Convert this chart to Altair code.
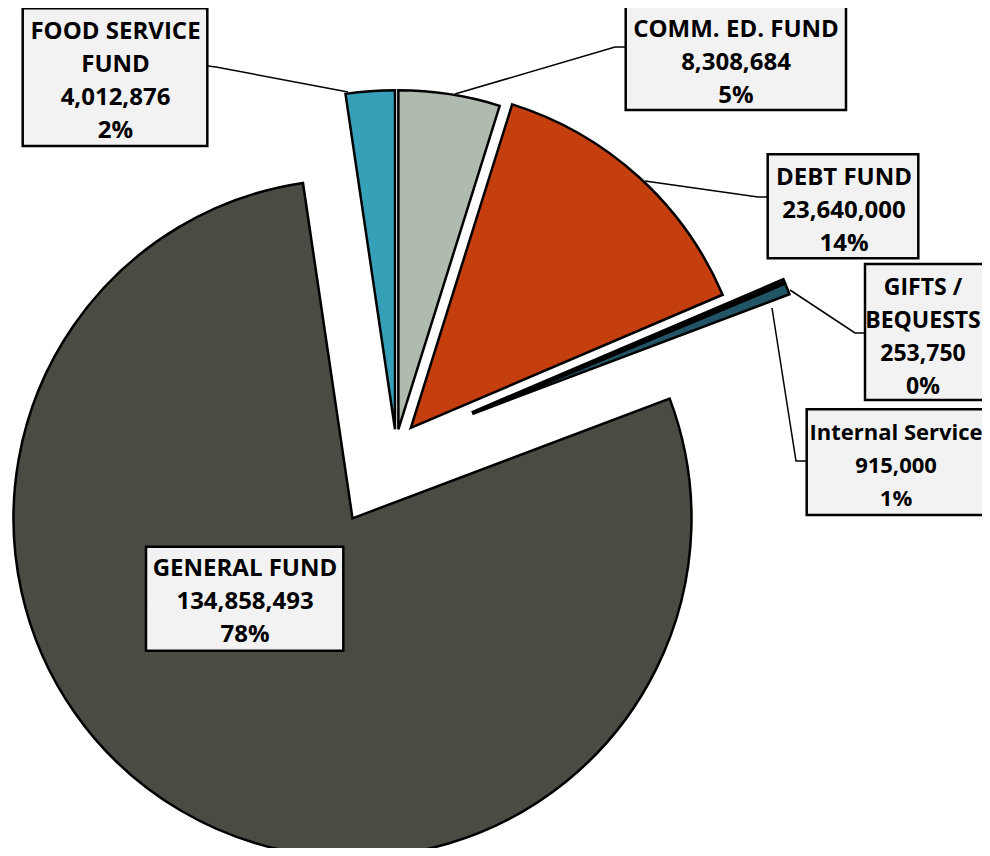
import altair as alt
import pandas as pd

# ---------------- data ----------------
names = ["COMM. ED. FUND", "DEBT FUND", "GIFTS / BEQUESTS", "Internal Service",
         "GENERAL FUND", "FOOD SERVICE FUND"]
name_lines = [["COMM. ED. FUND"], ["DEBT FUND"], ["GIFTS /", "BEQUESTS"],
              ["Internal Service"], ["GENERAL FUND"], ["FOOD SERVICE", "FUND"]]
values = [8308684, 23640000, 253750, 915000, 134858493, 4012876]

# ---------------- style / layout ----------------
colors = ["#b0bbb0", "#c43e0e", "#141414", "#215566", "#4b4b44", "#35a0b8"]
M = 8                                   # page margin
PIE_CX, PIE_CY = 396.1 - M, 444.2 - M   # pie centre before explosion
RADIUS = 339
explode_px = [15, 22, 82, 82, 86, 15]

# label boxes (left, top, right, bottom) in page pixels
boxes = [(625.7, 6, 846, 110), (767.7, 154.3, 918.3, 258.3), (865, 264, 995, 400),
         (806.7, 409.3, 1004, 515), (146, 546.7, 343.3, 650.7), (22.7, 8.3, 207.3, 146)]
# centre x of the text block, centre y of its first line (page pixels)
text_anchor = [(736, 30), (844, 177.5), (923, 288), (896, 433), (245, 568.5), (115.5, 32.2)]
font_sizes = [24, 24, 23, 22, 24, 24]
leaders = [[(626, 47), (615, 47), (455, 94)],
           [(767, 197), (758, 197), (645, 181)],
           [(865, 333), (855, 333), (790, 290)],
           [(807, 461), (796, 461), (772, 308)],
           [],
           [(208, 66), (216, 67), (348, 92)]]

total = sum(values)
pcts = [round(v / total * 100) for v in values]

slices = pd.DataFrame({"name": names, "value": values,
                       "order": list(range(len(names))), "explode": explode_px})

arcs = (
    alt.Chart(slices)
    .transform_joinaggregate(total="sum(value)")
    .transform_window(cum="sum(value)", sort=[alt.SortField("order")], frame=[None, 0])
    .transform_calculate(mid="2*PI*(datum.cum - datum.value/2)/datum.total")
    .transform_calculate(px=f"{PIE_CX} + datum.explode*sin(datum.mid)",
                         py=f"{PIE_CY} - datum.explode*cos(datum.mid)")
    .mark_arc(outerRadius=RADIUS, stroke="black", strokeWidth=2.5, strokeJoin="miter")
    .encode(
        theta=alt.Theta("value:Q", stack=True),
        order=alt.Order("order:Q"),
        color=alt.Color("name:N", scale=alt.Scale(domain=names, range=colors), legend=None),
        x=alt.X("px:Q", scale=None, axis=None),
        y=alt.Y("py:Q", scale=None, axis=None),
    )
)

lead_rows = []
for n, pts in zip(names, leaders):
    for i, (x, y) in enumerate(pts):
        lead_rows.append({"name": n, "seq": i, "x": x - M, "y": y - M})
lead_df = pd.DataFrame(lead_rows)

lead = alt.Chart(lead_df).mark_line(color="black", strokeWidth=1.5).encode(
    x=alt.X("x:Q", scale=None, axis=None),
    y=alt.Y("y:Q", scale=None, axis=None),
    detail="name:N",
    order="seq:Q",
)

box_df = pd.DataFrame({
    "name": names,
    "x0": [b[0] - M for b in boxes], "y0": [b[1] - M for b in boxes],
    "x1": [b[2] - M for b in boxes], "y1": [b[3] - M for b in boxes],
})
rects = alt.Chart(box_df).mark_rect(fill="#f2f2f2", stroke="black", strokeWidth=2.5).encode(
    x=alt.X("x0:Q", scale=None, axis=None), x2="x1:Q",
    y=alt.Y("y0:Q", scale=None, axis=None), y2="y1:Q",
)

text_df = pd.DataFrame({
    "name": names,
    "lines": [nl + [f"{v:,}", f"{p}%"] for nl, v, p in zip(name_lines, values, pcts)],
    "tx": [c[0] - M for c in text_anchor],
    "ty": [c[1] - M for c in text_anchor],
    "fs": font_sizes,
})
texts = alt.Chart(text_df).mark_text(
    font="Open Sans", fontWeight="bold", lineHeight=33,
    color="black", align="center", baseline="middle",
).encode(
    x=alt.X("tx:Q", scale=None, axis=None),
    y=alt.Y("ty:Q", scale=None, axis=None),
    size=alt.Size("fs:Q", scale=None, legend=None),
    text="lines",
)

chart = (
    alt.layer(arcs, lead, rects, texts)
    .properties(width=974, height=840, padding=0, autosize=alt.AutoSizeParams(type="none"))
    .configure_view(stroke=None)
)

chart.save("out.html", embed_options={"renderer": "svg", "actions": False})
